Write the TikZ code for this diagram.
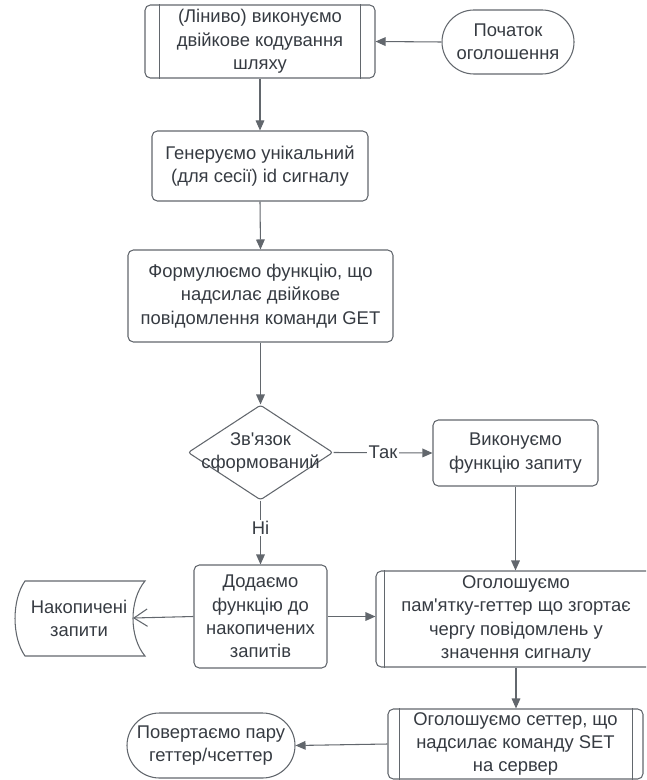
\documentclass[tikz,border=0pt]{standalone}
\usepackage{fontspec}
\setmainfont{Liberation Sans}
\usetikzlibrary{shapes.geometric,shapes.misc,arrows.meta,calc}
\newcommand\pxu{0.75pt}
\definecolor{ink}{HTML}{363B42}
\definecolor{edge}{HTML}{62676D}
\begin{document}
\begin{tikzpicture}[x=0.75pt,y=-0.75pt,
  every node/.style={font=\fontsize{13.8}{17.6}\selectfont, text=ink},
  box/.style={draw=edge, line width=0.8pt, rounded corners=4pt, align=center, inner sep=0pt},
  term/.style={draw=edge, line width=0.8pt, rounded rectangle, align=center, inner sep=0pt},
  flow/.style={draw=edge, line width=0.8pt, -{Triangle[length=7.5pt,width=6.5pt]}},
  openflow/.style={draw=edge, line width=0.8pt, -{Straight Barb[length=10pt,width=13pt]}},
  tag/.style={fill=white, inner sep=1pt}]
\useasboundingbox (0,0) rectangle (646,780);
\begin{scope}
\clip (0,0) rectangle (646,780);

% top row
\node[box, minimum width=230*\pxu, minimum height=73*\pxu] (lazy) at (260,41.5)
  {(Ліниво) виконуємо\\двійкове кодування\\шляху};
\draw[edge, line width=0.8pt] ($(lazy.north west)+(15,0)$) -- ($(lazy.south west)+(15,0)$);
\draw[edge, line width=0.8pt] ($(lazy.north east)+(-15,0)$) -- ($(lazy.south east)+(-15,0)$);
\node[term, minimum width=132*\pxu, minimum height=64*\pxu] (start) at (508,42)
  {Початок\\оголошення};

\node[box, minimum width=216*\pxu, minimum height=70*\pxu] (gen) at (260,166)
  {Генеруємо унікальний\\(для сесії) id сигналу};
\node[box, minimum width=265*\pxu, minimum height=92*\pxu] (form) at (260.5,296)
  {Формулюємо функцію, що\\надсилає двійкове\\повідомлення команди GET};

% decision
\node[diamond, draw=edge, line width=0.8pt, rounded corners=2pt, inner sep=0pt,
  minimum width=145*\pxu, minimum height=95*\pxu] (link) at (260.5,452.5) {};
\node[align=center] (linktext) at (link.center) {Зв\textquotesingle язок\\сформований};

\node[box, minimum width=165*\pxu, minimum height=66*\pxu] (exec) at (515.5,453)
  {Виконуємо\\функцію запиту};
\node[box, minimum width=133*\pxu, minimum height=103*\pxu] (add) at (260.5,616.5)
  {Додаємо\\функцію до\\накопичених\\запитів};

% stored data
\node[align=center, minimum width=130*\pxu, minimum height=75*\pxu, inner sep=0pt] (acc) at (79,618.5)
  {Накопичені\\запити};
\draw[edge, line width=0.8pt] (25,581) -- (145,581) .. controls (129,600) and (129,637) .. (145,656)
  -- (25,656) .. controls (11.7,637) and (11.7,600) .. (25,581) -- cycle;
\coordinate (accin) at (133,618);

% getter declaration
\node[box, minimum width=280*\pxu, minimum height=96*\pxu] (getter) at (516,619)
  {Оголошуємо\\пам\textquotesingle ятку-геттер що згортає\\чергу повідомлень у\\значення сигналу};
\draw[edge, line width=0.8pt] ($(getter.north west)+(9,0)$) -- ($(getter.south west)+(9,0)$);
\draw[edge, line width=0.8pt] ($(getter.north east)+(-9,0)$) -- ($(getter.south east)+(-9,0)$);

% setter declaration
\node[box, minimum width=255*\pxu, minimum height=70*\pxu] (setter) at (515.5,744)
  {Оголошуємо сеттер, що\\надсилає команду SET\\на сервер};
\draw[edge, line width=0.8pt] ($(setter.north west)+(12,0)$) -- ($(setter.south west)+(12,0)$);
\draw[edge, line width=0.8pt] ($(setter.north east)+(-11,0)$) -- ($(setter.south east)+(-11,0)$);

\node[term, minimum width=168*\pxu, minimum height=65*\pxu] (done) at (211,745.5)
  {Повертаємо пару\\геттер/чсеттер};

% connectors
\draw[flow] (start.west) -- (lazy.east);
\draw[flow] (lazy.south) -- (gen.north);
\draw[flow] (gen.south) -- (form.north);
\draw[flow] (form.south) -- (link.north);
\draw[flow] (link.east) -- node[tag, pos=0.5] {Так} (exec.west);
\draw[flow] (link.south) -- node[tag, pos=0.43] {Ні} (add.north);
\draw[openflow] (add.west) -- (accin);
\draw[flow] (add.east) -- (add.east -| getter.west);
\draw[flow] (exec.south) -- (exec.south |- getter.north);
\draw[flow] (getter.south) -- (getter.south |- setter.north);
\draw[flow] (setter.west) -- (done.east);
\end{scope}
\end{tikzpicture}
\end{document}
